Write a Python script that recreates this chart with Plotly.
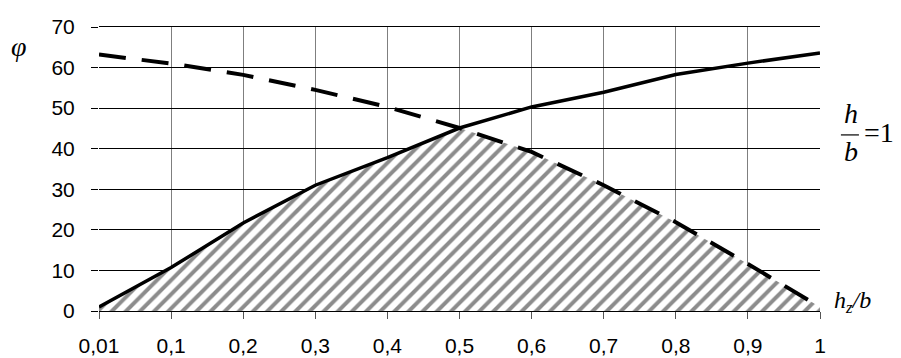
import plotly.graph_objects as go

categories = ["0,01", "0,1", "0,2", "0,3", "0,4", "0,5", "0,6", "0,7", "0,8", "0,9", "1"]
solid_vals = [1.0, 10.7, 21.7, 31.0, 37.8, 45.1, 50.3, 53.9, 58.3, 61.1, 63.6]
dashed_vals = [63.2, 61.0, 58.2, 54.5, 50.3, 45.1, 39.2, 31.0, 21.9, 11.6, 1.0]
y_ticks = [0, 10, 20, 30, 40, 50, 60, 70]

hatch_vals = [min(a, b) for a, b in zip(solid_vals, dashed_vals)]

fig = go.Figure()
fig.add_trace(go.Scatter(
    x=categories, y=hatch_vals, mode="lines", line=dict(width=0),
    fill="tozeroy", fillcolor="rgba(0,0,0,0)",
    fillpattern=dict(shape="/", size=10, solidity=0.4, fgcolor="#1a1a1a", bgcolor="white"),
    hoverinfo="skip", showlegend=False))
fig.add_trace(go.Scatter(
    x=categories, y=dashed_vals, mode="lines",
    line=dict(color="black", width=4, dash="27px,16px"), showlegend=False))
fig.add_trace(go.Scatter(
    x=categories, y=solid_vals, mode="lines",
    line=dict(color="black", width=3.5), showlegend=False))

serif = "Liberation Serif, Times New Roman, serif"
def note(x, y, text, size, xanchor="center"):
    fig.add_annotation(xref="paper", yref="paper", x=x, y=y, text=text,
                       xanchor=xanchor, yanchor="middle", showarrow=False,
                       font=dict(family=serif, size=size, color="black"))

note(-0.111, 0.93, "<i>φ</i>", 28)
note(1.043, 0.694, "<i>h</i>", 28)
note(1.043, 0.56, "<i>b</i>", 28)
note(1.058, 0.63, "=1", 28, xanchor="left")
fig.add_shape(type="line", xref="paper", yref="paper", x0=1.029, x1=1.054, y0=0.62, y1=0.62,
              line=dict(color="black", width=1.2))
note(1.017, 0.03, "<i>h<sub>z</sub>/b</i>", 24, xanchor="left")

fig.update_layout(
    width=901, height=358,
    margin=dict(l=91, r=89, t=19, b=55, autoexpand=False),
    plot_bgcolor="white", paper_bgcolor="white",
    font=dict(family="Liberation Sans, Arial, sans-serif", size=21, color="black"),
    xaxis=dict(type="category", range=[0, 10], showgrid=True, gridcolor="#7f7f7f", gridwidth=1,
               ticks="outside", ticklen=7, tickcolor="#555555", ticklabelstandoff=9,
               showline=True, linecolor="black", linewidth=1, mirror=True, zeroline=False,
               automargin=False),
    yaxis=dict(range=[0, 70], tickvals=y_ticks, showgrid=True, gridcolor="black", gridwidth=1,
               ticks="outside", ticklen=7, tickcolor="black", ticklabelstandoff=12,
               showline=False, zeroline=False, automargin=False),
)

fig.write_html("out.html")
